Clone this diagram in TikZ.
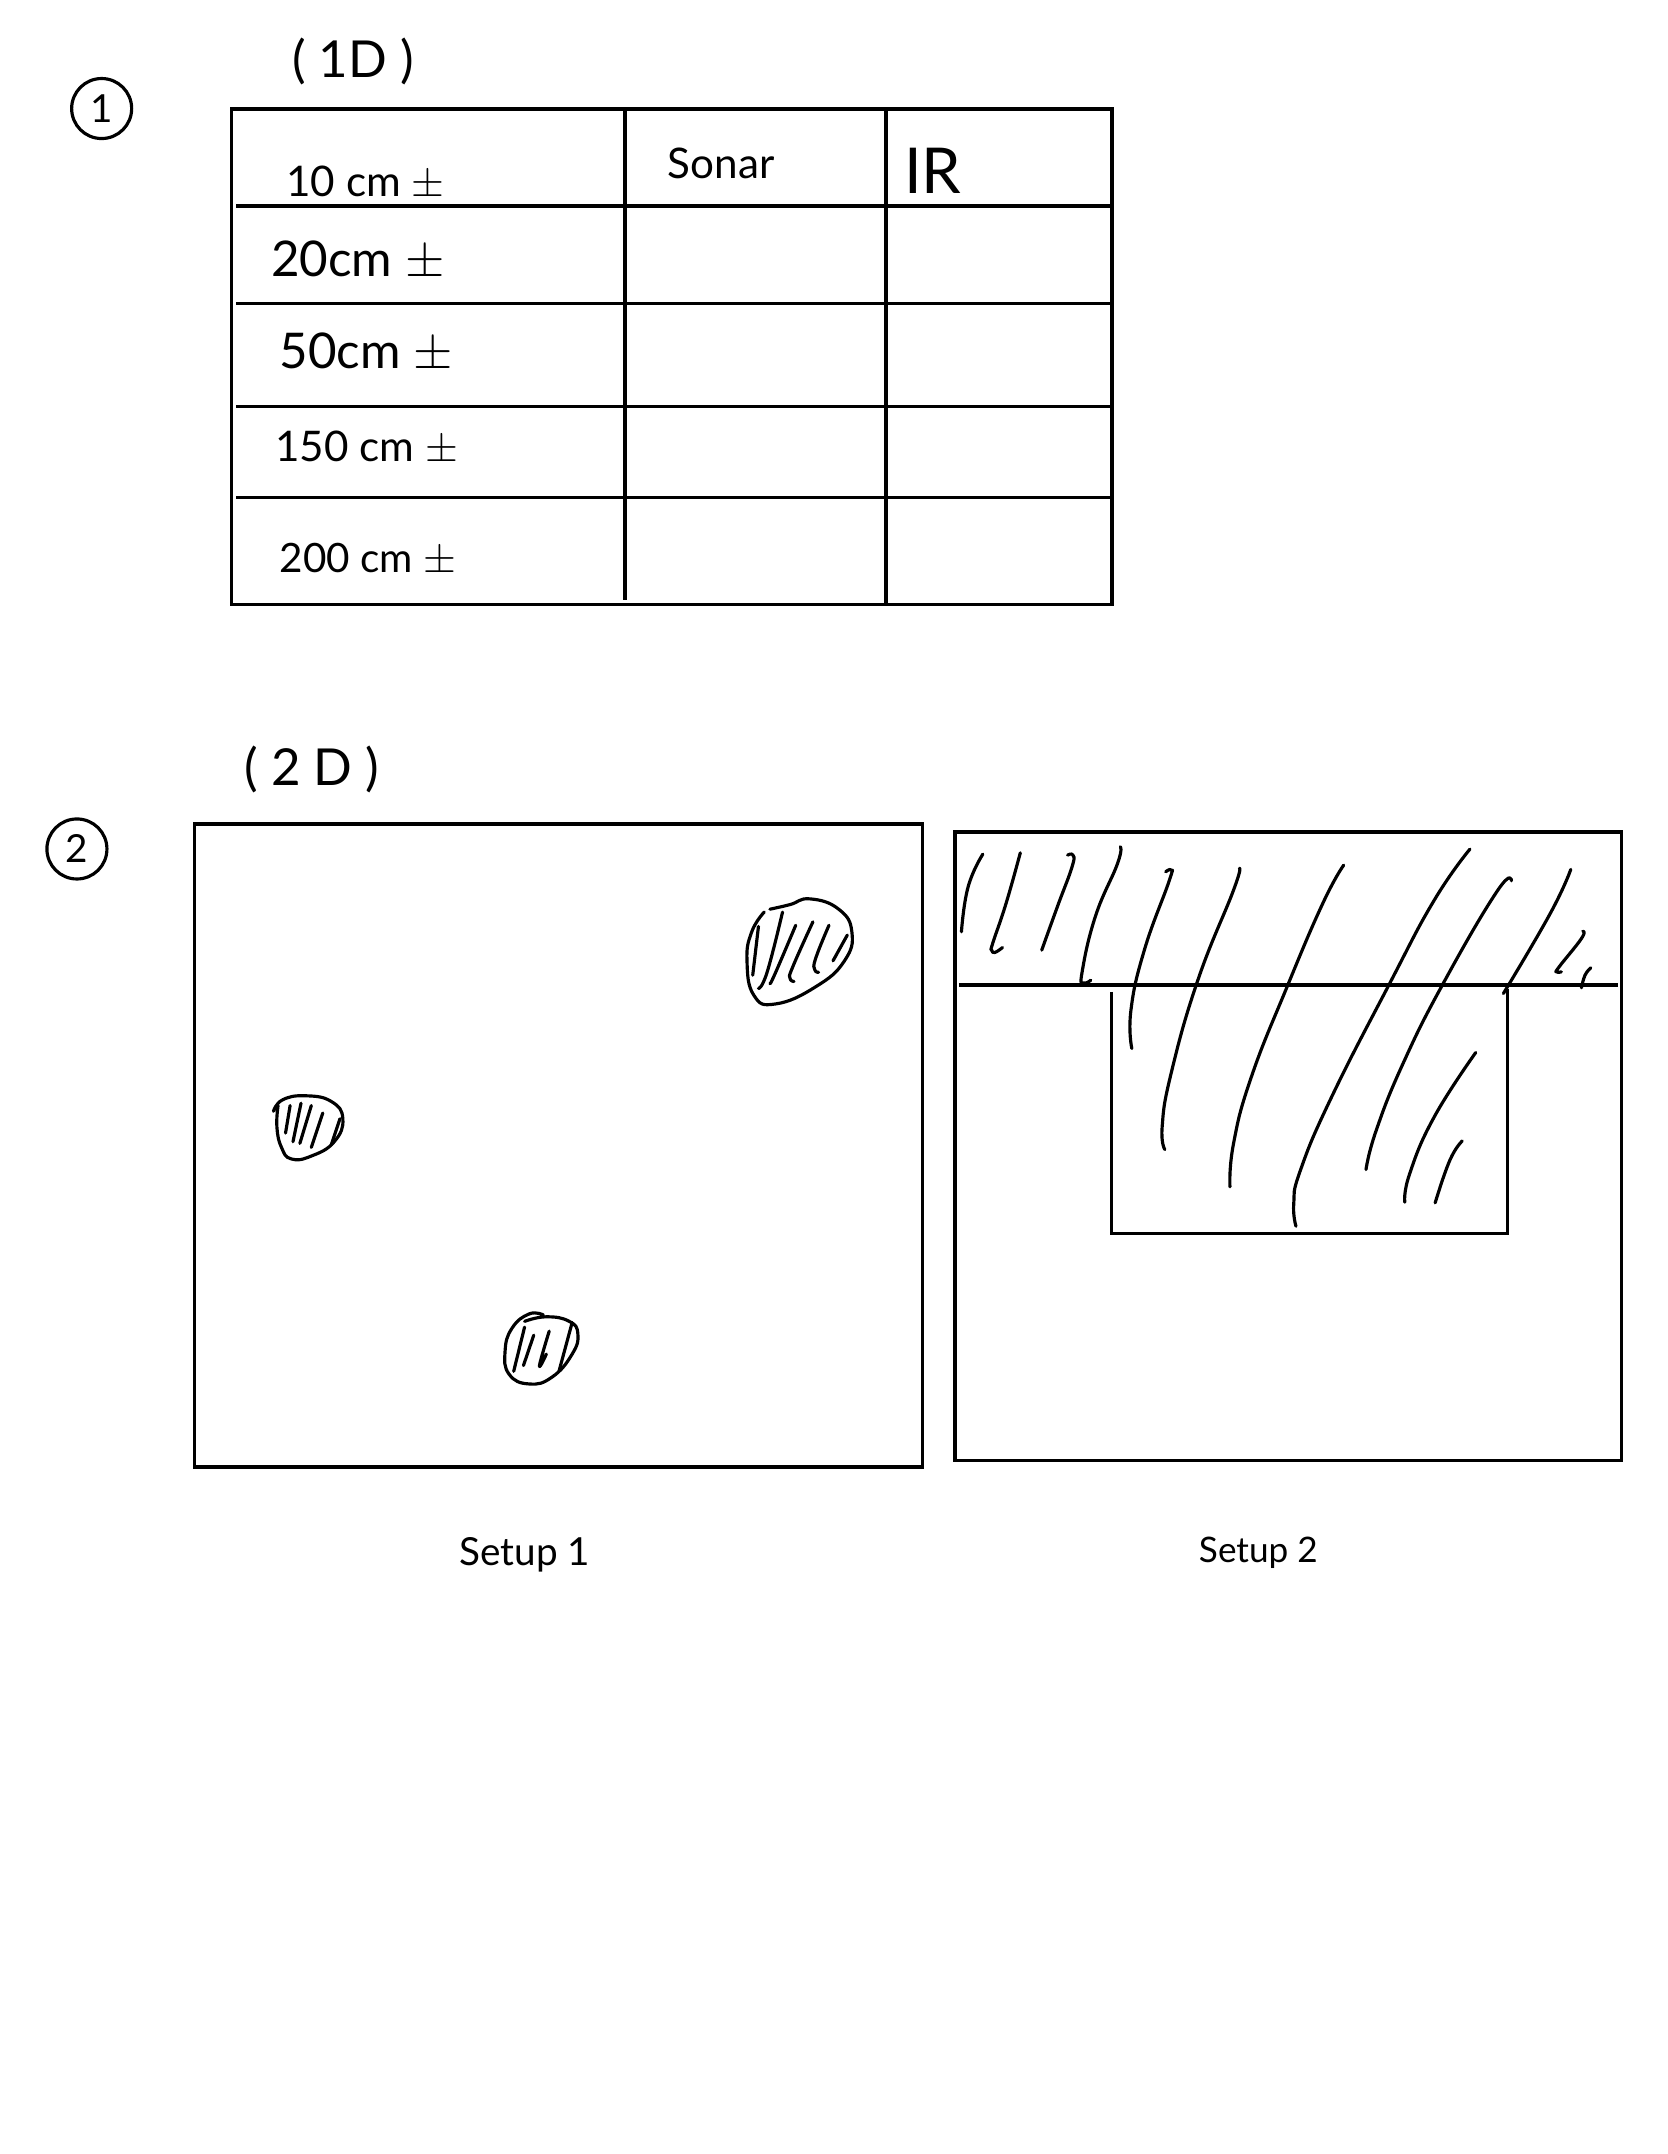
\documentclass[tikz,border=0pt]{standalone}
\usepackage{fontspec}
\setmainfont{Lato}

\tikzset{
  outline/.style={line width=1pt},
  stroke/.style={line width=.9pt,line cap=round,line join=round,smooth,tension=.8},
  badge/.style={circle,draw,line width=.9pt,minimum size=.6cm,inner sep=0pt,font=\fontsize{11}{13}\selectfont},
  rowtext/.style={anchor=west,inner sep=0pt,font=\fontsize{14}{16}\selectfont},
  headtext/.style={inner sep=0pt,font=\fontsize{14.5}{17}\selectfont},
  setuptext/.style={inner sep=0pt,font=\fontsize{11}{13}\selectfont},
}

\begin{document}
\begin{tikzpicture}[x=0.013737cm,y=-0.013737cm]
    \useasboundingbox (0,0) rectangle (1214.2,1568);

    % part one: the table
    \node[badge] (BadgeOne) at (74,79) {1};
    \node[headtext] (TitleOne) at (257,45) {( 1D )};

    \draw[outline] (168.5,79.5) rectangle (809.5,440);
    \draw[outline] (455,79.5) -- (455,437);
    \draw[outline] (645,79.5) -- (645,440);
    \foreach \rowy in {150,221,296,362} {
      \draw[outline] (172,\rowy) -- (809.5,\rowy);
    }

    \node[inner sep=0pt,font=\fontsize{12}{14}\selectfont] (Sonar) at (525,119) {Sonar};
    \node[inner sep=0pt,font=\fontsize{18}{20}\selectfont] (IR) at (679,124) {IR};
    \node[rowtext,font=\fontsize{12}{14}\selectfont] (RowA) at (208,133) {10 cm $\pm$};
    \node[rowtext] (RowB) at (197,190) {20cm $\pm$};
    \node[rowtext] (RowC) at (203,257) {50cm $\pm$};
    \node[rowtext,font=\fontsize{12}{14}\selectfont] (RowD) at (200,326) {150 cm $\pm$};
    \node[rowtext,font=\fontsize{11.5}{14}\selectfont] (RowE) at (203,407) {200 cm $\pm$};

    % part two: the two setups
    \node[badge] (BadgeTwo) at (56,618) {2};
    \node[headtext] (TitleTwo) at (227,560) {( 2 D )};

    \draw[outline] (141.5,600) rectangle (671.5,1068);
    \draw[outline] (695,605.5) rectangle (1180.5,1063);
    \draw[outline] (698,717) -- (1178,717);
    \draw[outline] (809,722) -- (809,898) -- (1097.5,898) -- (1097.5,720);

    \node[setuptext] (SetupOne) at (382,1132) {Setup 1};
    \node[setuptext,font=\fontsize{10}{12}\selectfont] (SetupTwo) at (916,1130) {Setup 2};

    % obstacles of setup 1
    \begin{scope}[shift={(22.15,523.94)},xscale=.4173,yscale=.4179]
      \draw[stroke] plot coordinates {(1290,330) (1325,322) (1360,312) (1410,330) (1433,370) (1420,420) (1370,465) (1300,495) (1262,480) (1250,420) (1258,370) (1280,335)};
      \draw[stroke] plot coordinates {(1270,360) (1260,445)};
      \draw[stroke] plot coordinates {(1312,335) (1285,440) (1270,468)};
      \draw[stroke] plot coordinates {(1335,358) (1300,440) (1290,460)};
      \draw[stroke] plot coordinates {(1365,352) (1330,430) (1325,450) (1332,456)};
      \draw[stroke] plot coordinates {(1393,358) (1370,415) (1368,435) (1375,440)};
      \draw[stroke] plot coordinates {(1425,375) (1400,420)};

      \draw[stroke] plot coordinates {(424,682) (440,662) (480,655) (525,665) (545,695) (530,735) (490,760) (455,765) (438,745) (430,710) (432,672)};
      \draw[stroke] plot coordinates {(453,672) (445,720)};
      \draw[stroke] plot coordinates {(472,668) (458,735)};
      \draw[stroke] plot coordinates {(490,672) (470,738)};
      \draw[stroke] plot coordinates {(510,685) (490,745)};
      \draw[stroke] plot coordinates {(540,695) (525,740)};

      \draw[stroke] plot coordinates {(895,1037) (870,1035) (840,1060) (828,1100) (835,1140) (870,1157) (910,1145) (945,1105) (955,1070) (940,1048) (900,1040) (862,1048)};
      \draw[stroke] plot coordinates {(862,1058) (843,1135)};
      \draw[stroke] plot coordinates {(878,1072) (860,1125)};
      \draw[stroke] plot coordinates {(905,1065) (888,1125) (900,1105)};
      \draw[stroke] plot coordinates {(945,1050) (922,1135)};
    \end{scope}

    % hatching of setup 2
    \begin{scope}[shift={(677.14,589.72)},xscale=.3247,yscale=.2427]
      \draw[stroke] plot coordinates {(118,132) (85,230) (70,365)};
      \draw[stroke] plot coordinates {(202,128) (170,280) (140,400) (138,420) (145,427) (162,412)};
      \draw[stroke] plot coordinates {(308,135) (320,135) (318,170) (285,290) (250,420)};
      \draw[stroke] plot coordinates {(426,110) (420,160) (370,320) (340,490) (345,518) (360,510)};
      \draw[stroke] plot coordinates {(528,185) (540,180) (535,215) (480,420) (450,600) (452,715)};
      \draw[stroke] plot coordinates {(693,175) (680,240) (600,510) (540,790) (520,950) (526,1018)};
      \draw[stroke] plot coordinates {(927,165) (880,280) (800,530) (720,800) (680,1000) (672,1130)};
      \draw[stroke] plot coordinates {(1210,117) (1130,270) (1030,520) (900,860) (830,1080) (815,1180) (820,1248)};
      \draw[stroke] plot coordinates {(1303,212) (1270,245) (1150,520) (1060,760) (1000,960) (977,1078)};
      \draw[stroke] plot coordinates {(1436,178) (1390,310) (1285,550)};
      \draw[stroke] plot coordinates {(1463,363) (1460,385) (1410,470) (1405,485) (1415,485)};
      \draw[stroke] plot coordinates {(1481,473) (1468,495) (1460,533)};
      \draw[stroke] plot coordinates {(1223,727) (1130,920) (1075,1090) (1064,1176)};
      \draw[stroke] plot coordinates {(1193,992) (1165,1050) (1132,1178)};
    \end{scope}
  \end{tikzpicture}
\end{document}
